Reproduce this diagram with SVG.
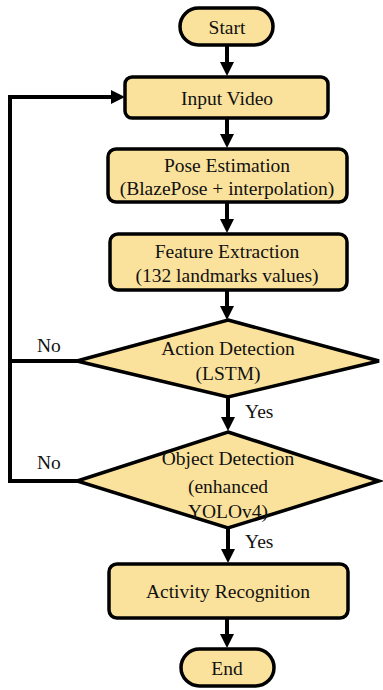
<svg xmlns="http://www.w3.org/2000/svg" width="383" height="690" viewBox="0 0 383 690">
<style>
.n{fill:#FBE29C;stroke:#000;stroke-width:3.5}
text{font-family:'Liberation Serif','DejaVu Serif','Times New Roman',serif;font-size:19.5px;fill:#111}
.t{text-anchor:middle}
.c{fill:none;stroke:#000;stroke-width:4}
</style>
<defs>
<marker id="ah" markerUnits="userSpaceOnUse" markerWidth="16" markerHeight="16" viewBox="0 -8 16 16" refX="0" refY="0" orient="auto">
<path d="M0,-7 L14,0 L0,7 Z" fill="#000"/>
</marker>
</defs>
<rect width="383" height="690" fill="#fff"/>
<g id="connectors">
<path class="c" d="M227,45 V62" marker-end="url(#ah)"/>
<path class="c" d="M227,118 V134" marker-end="url(#ah)"/>
<path class="c" d="M227,202 V219" marker-end="url(#ah)"/>
<path class="c" d="M227,290 V306" marker-end="url(#ah)"/>
<path class="c" d="M228,397 V417" marker-end="url(#ah)"/>
<path class="c" d="M228,528 V549" marker-end="url(#ah)"/>
<path class="c" d="M227,618 V634" marker-end="url(#ah)"/>
<path class="c" d="M78,361 H10"/>
<path class="c" d="M78,481 H10 V97 H111" marker-end="url(#ah)"/>
<text x="37" y="352">No</text>
<text x="37" y="469">No</text>
<text x="245" y="418">Yes</text>
<text x="245" y="548">Yes</text>
</g>
<g id="start">
<rect class="n" x="180" y="8" width="93" height="37" rx="18.5"/>
<text class="t" x="227" y="34">Start</text>
</g>
<g id="input">
<rect class="n" x="125" y="77" width="203" height="41" rx="7"/>
<text class="t" x="227" y="105">Input Video</text>
</g>
<g id="pose">
<rect class="n" x="108" y="149" width="239" height="53" rx="8"/>
<text class="t" x="227" y="172">Pose Estimation</text>
<text class="t" x="227" y="195">(BlazePose + interpolation)</text>
</g>
<g id="feature">
<rect class="n" x="110" y="234" width="237" height="56" rx="8"/>
<text class="t" x="227" y="258">Feature Extraction</text>
<text class="t" x="227" y="282">(132 landmarks values)</text>
</g>
<g id="action">
<polygon class="n" points="228,320 379,361 228,397 77,361"/>
<text class="t" x="228" y="355">Action Detection</text>
<text class="t" x="228" y="380">(LSTM)</text>
</g>
<g id="object">
<polygon class="n" points="228,432 379,481 228,528 77,481"/>
<text class="t" x="228" y="465">Object Detection</text>
<text class="t" x="228" y="493">(enhanced</text>
<text class="t" x="228" y="518">YOLOv4)</text>
</g>
<g id="activity">
<rect class="n" x="109" y="564" width="239" height="54" rx="8"/>
<text class="t" x="228" y="598">Activity Recognition</text>
</g>
<g id="end">
<rect class="n" x="181" y="649" width="93" height="37" rx="18.5"/>
<text class="t" x="227" y="675">End</text>
</g>
</svg>
